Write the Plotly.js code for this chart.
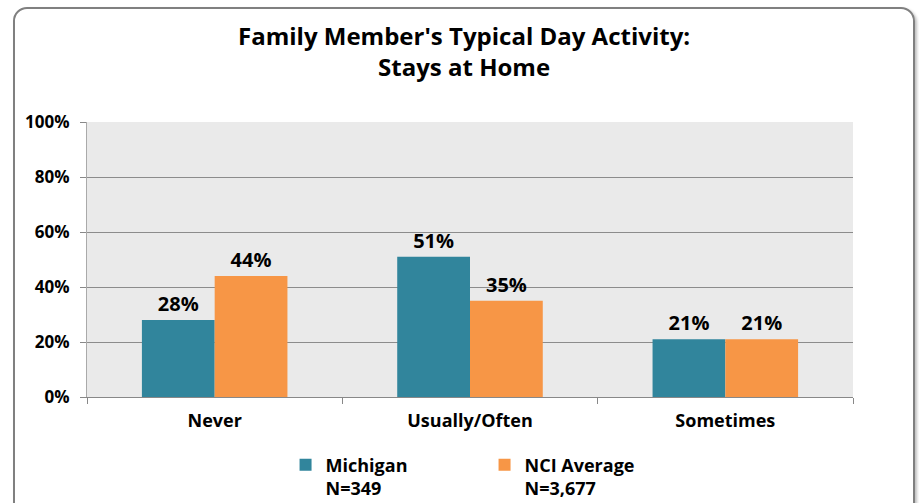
<!DOCTYPE html>
<html>
<head>
<meta charset="utf-8">
<script src="https://cdn.plot.ly/plotly-3.0.1.min.js"></script>
<style>
html,body{margin:0;padding:0;background:#fff;}
#wrap{position:relative;width:919px;height:503px;overflow:hidden;}
#chart{position:absolute;left:0;top:0;width:919px;height:503px;}
#frame{position:absolute;left:13px;top:7px;width:898px;height:520px;border:2px solid #808080;border-radius:14px;box-shadow:2px 2px 3px rgba(0,0,0,0.25);pointer-events:none;}
</style>
</head>
<body>
<div id="wrap">
<div id="chart"></div>
<div id="frame"></div>
</div>
<script>
const categories = ["Never", "Usually/Often", "Sometimes"];
const michigan = [28, 51, 21];
const nciAverage = [44, 35, 21];
const seriesNames = ["Michigan<br>N=349", "NCI Average<br>N=3,677"];
const yTicks = [0, 20, 40, 60, 80, 100];
const yTickText = ["0%", "20%", "40%", "60%", "80%", "100%"];

const font = "'Open Sans', 'DejaVu Sans', sans-serif";

const traces = [
  {type: 'bar', x: categories, y: michigan, name: seriesNames[0],
   marker: {color: '#31859C'}, text: michigan.map(v => v + '%'),
   textposition: 'outside', cliponaxis: false,
   textfont: {family: font, size: 20, color: '#000', weight: 'bold'}},
  {type: 'bar', x: categories, y: nciAverage, name: seriesNames[1],
   marker: {color: '#F79646'}, text: nciAverage.map(v => v + '%'),
   textposition: 'outside', cliponaxis: false,
   textfont: {family: font, size: 20, color: '#000', weight: 'bold'}}
];

const layout = {
  width: 919, height: 503,
  margin: {l: 87, r: 66, t: 122, b: 106, autoexpand: false},
  paper_bgcolor: 'rgba(0,0,0,0)',
  plot_bgcolor: '#EAEAEA',
  barmode: 'group', bargap: 0.43, bargroupgap: 0,
  title: {text: "Family Member's Typical Day Activity:<br>Stays at Home",
          x: 0.505, xanchor: 'center', y: 0.91, yanchor: 'top',
          font: {family: font, size: 24, color: '#000', weight: 'bold'}},
  xaxis: {type: 'category', showline: true, linecolor: '#888', linewidth: 1,
          ticks: 'outside', tickson: 'boundaries', ticklen: 6, tickcolor: '#888',
          ticklabelstandoff: 7,
          tickfont: {family: font, size: 18, color: '#000', weight: 'bold'},
          showgrid: false, automargin: false},
  yaxis: {range: [0, 100], tickmode: 'array', tickvals: yTicks, ticktext: yTickText,
          showline: true, linecolor: '#aaa', linewidth: 1,
          ticks: 'outside', ticklen: 6, tickcolor: '#888',
          ticklabelstandoff: 7,
          gridcolor: '#8c8c8c', gridwidth: 1, zeroline: false, automargin: false,
          tickfont: {family: font, size: 17, color: '#000', weight: 'bold'}},
  legend: {orientation: 'h', x: 0.519, xanchor: 'center', y: -0.18, yanchor: 'top',
           entrywidth: 154, entrywidthmode: 'pixels', valign: 'top',
           font: {family: font, size: 18, color: '#000', weight: 'bold'},
           itemclick: false},
  showlegend: true
};

Plotly.newPlot('chart', traces, layout, {displayModeBar: false, staticPlot: true});
</script>
</body>
</html>
